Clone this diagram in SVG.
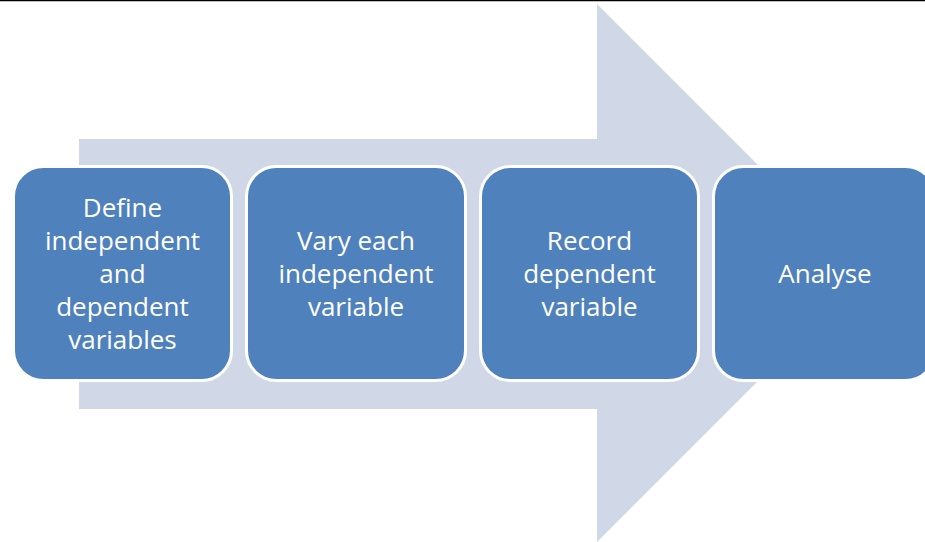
<svg xmlns="http://www.w3.org/2000/svg" width="925" height="542" viewBox="0 0 925 542">
<style>
.box{fill:#4F81BD;stroke:#FFFFFF;stroke-width:3}
.lbl{fill:#FFFFFF;font-family:"Open Sans","Liberation Sans",sans-serif;font-size:26px;text-anchor:middle}
</style>
<rect x="0" y="0" width="925" height="542" fill="#FFFFFF"/>
<line x1="0" y1="0.5" x2="925" y2="0.5" stroke="#000000" stroke-width="1.5"/>
<g id="connectors">
<polygon id="arrow" points="79,139 597,139 597,4 866,273 597,542 597,409 79,409" fill="#D0D8E8"/>
</g>
<g id="n1">
<rect class="box" x="13.5" y="166.5" width="218" height="214" rx="30"/>
<text class="lbl" x="122.5" y="217">Define</text>
<text class="lbl" x="122.5" y="250">independent</text>
<text class="lbl" x="122.5" y="283">and</text>
<text class="lbl" x="122.5" y="316">dependent</text>
<text class="lbl" x="122.5" y="349">variables</text>
</g>
<g id="n2">
<rect class="box" x="246.5" y="166.5" width="219" height="214" rx="30"/>
<text class="lbl" x="356" y="250">Vary each</text>
<text class="lbl" x="356" y="283">independent</text>
<text class="lbl" x="356" y="316">variable</text>
</g>
<g id="n3">
<rect class="box" x="480.5" y="166.5" width="218" height="214" rx="30"/>
<text class="lbl" x="589.5" y="250">Record</text>
<text class="lbl" x="589.5" y="283">dependent</text>
<text class="lbl" x="589.5" y="316">variable</text>
</g>
<g id="n4">
<rect class="box" x="713.5" y="166.5" width="222" height="214" rx="30"/>
<text class="lbl" x="825" y="283">Analyse</text>
</g>
</svg>
